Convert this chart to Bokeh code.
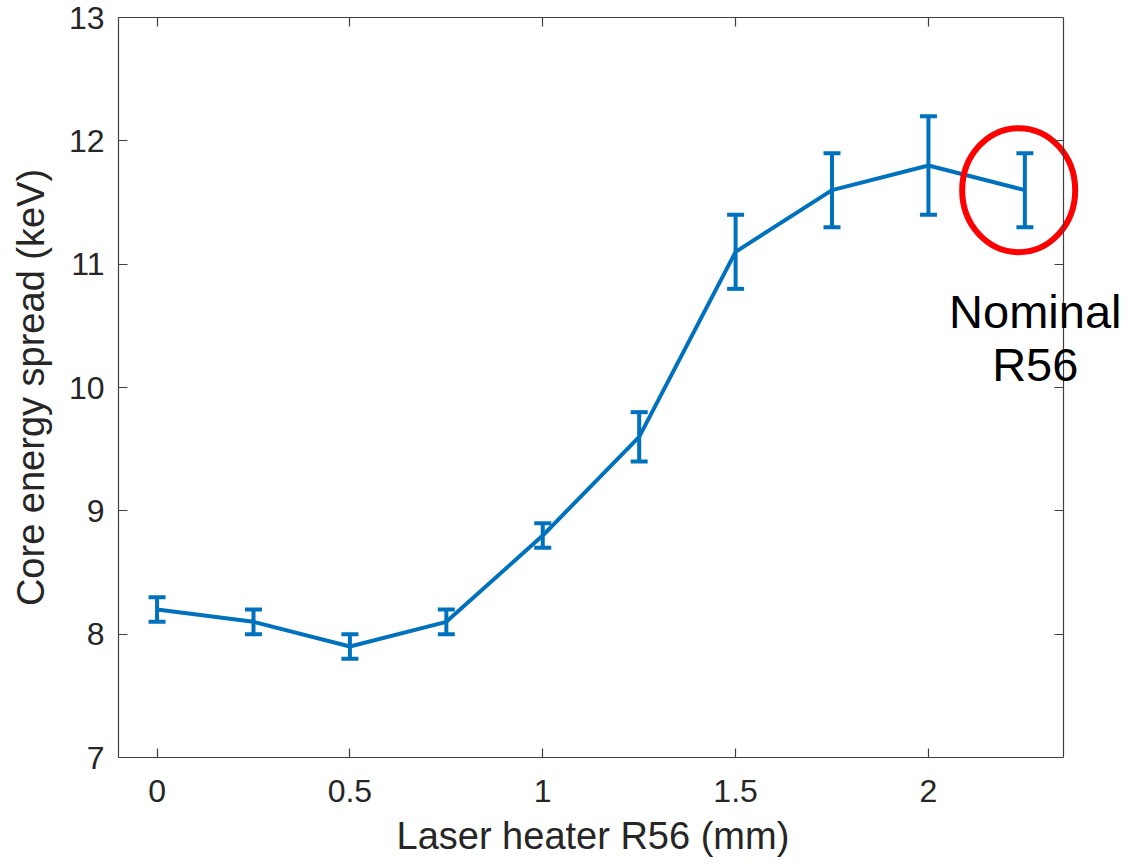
import numpy as np
from bokeh.plotting import figure
from bokeh.models import LinearAxis, Range1d, FixedTicker, Label, ColumnDataSource, Title
from bokeh.embed import file_html
from bokeh.resources import INLINE

# Data
r56 = [0, 0.25, 0.5, 0.75, 1.0, 1.25, 1.5, 1.75, 2.0, 2.25]
spread = [8.2, 8.1, 7.9, 8.1, 8.8, 9.6, 11.1, 11.6, 11.8, 11.6]
err = [0.1, 0.1, 0.1, 0.1, 0.1, 0.2, 0.3, 0.3, 0.4, 0.3]
x_ticks = [0, 0.5, 1, 1.5, 2]
y_ticks = [7, 8, 9, 10, 11, 12, 13]
annotation_lines = ["Nominal", "R56"]
x_title = "Laser heater R56 (mm)"
y_title = "Core energy spread (keV)"

X_LIM = (-0.1, 2.35)   # visible axes box
Y_LIM = (7, 13)

FONT = "Liberation Sans"
TXT = "#262626"
AX = "#404040"
BLUE = "#0072BD"

# the frame extends past the axes box on the right so the annotation is not clipped
p = figure(width=1142, height=864, output_backend="svg", toolbar_location=None,
           x_range=Range1d(X_LIM[0], 2.555), y_range=Range1d(*Y_LIM),
           min_border_left=118, min_border_right=0, min_border_top=17, min_border_bottom=107,
           y_axis_label=y_title)
p.grid.visible = False
p.outline_line_color = None
p.background_fill_color = "white"
p.border_fill_color = "white"

def style_axis(ax, labels=True):
    ax.axis_line_color = AX
    ax.axis_line_width = 1.2
    ax.major_tick_line_color = AX
    ax.major_tick_line_width = 1.2
    ax.major_tick_in = 9
    ax.major_tick_out = 0
    ax.minor_tick_line_color = None
    ax.major_label_text_font = FONT
    ax.major_label_text_font_size = "32px"
    ax.major_label_text_color = TXT
    ax.axis_label_text_font = FONT
    ax.axis_label_text_font_size = "38px"
    ax.axis_label_text_font_style = "normal"
    ax.axis_label_text_color = TXT
    if not labels:
        ax.major_label_text_font_size = "0px"
        ax.major_label_text_alpha = 0
        ax.major_label_standoff = 0

p.xaxis.ticker = FixedTicker(ticks=x_ticks)
p.yaxis.ticker = FixedTicker(ticks=y_ticks)
p.xaxis.major_label_overrides = {0: "0", 0.5: "0.5", 1: "1", 1.5: "1.5", 2: "2"}
for ax in p.xaxis + p.yaxis:
    style_axis(ax)
p.xaxis.bounds = X_LIM
p.xaxis.major_label_standoff = 22
p.yaxis.major_label_standoff = 14
p.yaxis.axis_label_standoff = 14

top = LinearAxis(ticker=FixedTicker(ticks=x_ticks), bounds=X_LIM)
style_axis(top, labels=False)
p.add_layout(top, "above")

right = LinearAxis(ticker=FixedTicker(ticks=y_ticks), bounds=Y_LIM, fixed_location=X_LIM[1])
style_axis(right, labels=False)
p.add_layout(right, "right")

# x-axis title, centred under the axes box (not under the wider frame)
xt = Title(text=x_title, align="left", offset=278, standoff=16,
           text_font=FONT, text_font_size="38px", text_font_style="normal", text_color=TXT)
p.add_layout(xt, "below")

src = ColumnDataSource(dict(
    x=r56, y=spread,
    lo=[s - e for s, e in zip(spread, err)],
    hi=[s + e for s, e in zip(spread, err)],
))
p.line("x", "y", source=src, line_color=BLUE, line_width=4)
p.segment(x0="x", y0="lo", x1="x", y1="hi", source=src, line_color=BLUE, line_width=4)
p.scatter("x", "lo", source=src, marker="dash", size=17, line_color=BLUE, line_width=4)
p.scatter("x", "hi", source=src, marker="dash", size=17, line_color=BLUE, line_width=4)

# Red ellipse around the nominal point
p.ellipse(x=[r56[-1] - 0.016], y=[spread[-1]], width=113, height=124,
          width_units="screen", height_units="screen",
          fill_color=None, line_color="#FF0000", line_width=6)

lab1 = Label(x=r56[-1] + 0.027, y=10.62, text=annotation_lines[0],
             text_font=FONT, text_font_size="47px", text_color="black",
             text_align="center", text_baseline="alphabetic")
lab2 = Label(x=r56[-1] + 0.027, y=10.19, text=annotation_lines[1],
             text_font=FONT, text_font_size="47px", text_color="black",
             text_align="center", text_baseline="alphabetic")
p.add_layout(lab1)
p.add_layout(lab2)

open("out.html", "w").write(file_html(p, INLINE))
